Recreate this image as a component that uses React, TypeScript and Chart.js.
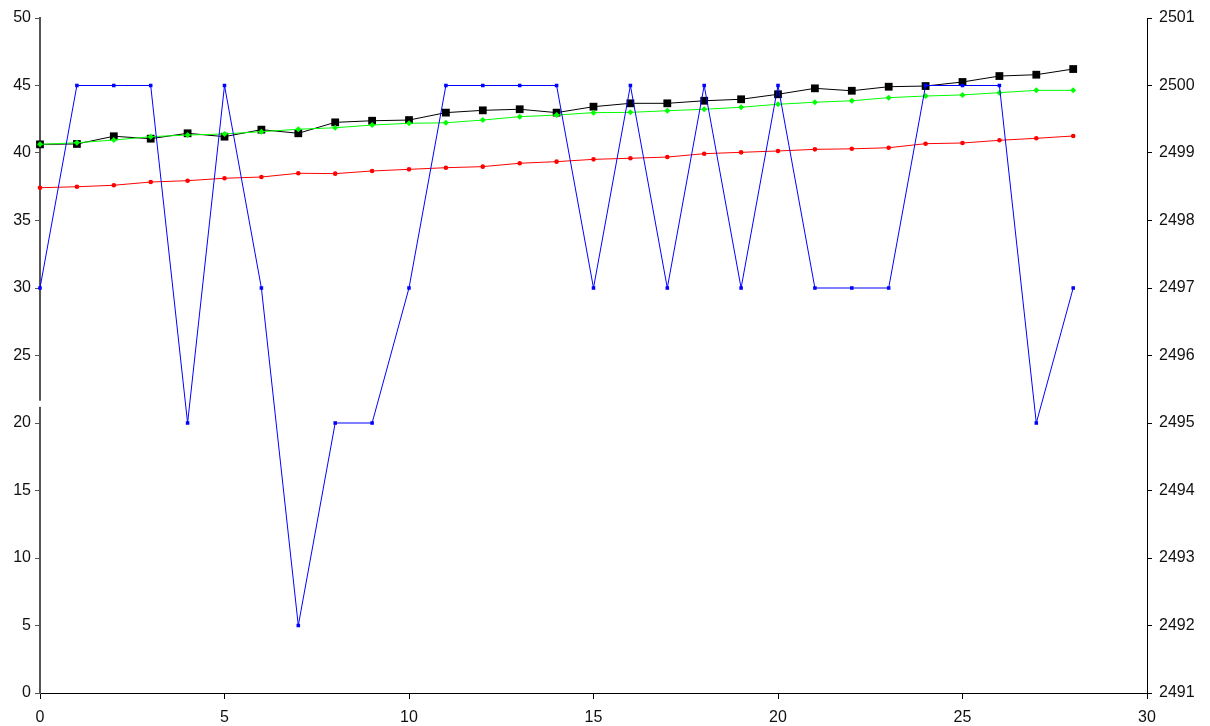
import React, { useEffect, useRef } from "react";
import { Chart, registerables } from "chart.js";

Chart.register(...registerables);

const xValues = [0, 1, 2, 3, 4, 5, 6, 7, 8, 9, 10, 11, 12, 13, 14, 15, 16, 17, 18, 19, 20, 21, 22, 23, 24, 25, 26, 27, 28];
const blueValues = [30, 45, 45, 45, 20, 45, 30, 5, 20, 20, 30, 45, 45, 45, 45, 30, 45, 30, 45, 30, 45, 30, 30, 30, 45, 45, 45, 20, 30];
const blackValues = [40.64, 40.67, 41.24, 41.06, 41.46, 41.21, 41.73, 41.46, 42.27, 42.39, 42.44, 42.99, 43.16, 43.24, 42.99, 43.43, 43.68, 43.68, 43.87, 43.98, 44.35, 44.79, 44.61, 44.91, 44.96, 45.26, 45.7, 45.8, 46.22];
const greenValues = [40.64, 40.76, 40.96, 41.21, 41.33, 41.41, 41.58, 41.76, 41.87, 42.07, 42.2, 42.24, 42.44, 42.69, 42.81, 42.99, 43.01, 43.13, 43.24, 43.39, 43.61, 43.76, 43.87, 44.1, 44.22, 44.3, 44.47, 44.64, 44.64];
const redValues = [37.43, 37.5, 37.61, 37.85, 37.95, 38.13, 38.22, 38.5, 38.47, 38.67, 38.79, 38.91, 38.99, 39.24, 39.36, 39.53, 39.61, 39.7, 39.95, 40.05, 40.15, 40.27, 40.31, 40.39, 40.69, 40.74, 40.94, 41.09, 41.26];

const xTickStep = 5;
const leftTickStep = 5;
const rightMin = 2491;
const rightMax = 2501;

const toPoints = (ys: number[]) => ys.map((y, i) => ({ x: xValues[i], y }));

const axisGapPlugin = {
  id: "axisGap",
  afterDraw(chart: any) {
    const y = chart.scales.y;
    if (!y) return;
    const ctx = chart.ctx;
    const top = y.getPixelForValue(21.65);
    const bottom = y.getPixelForValue(21.2);
    ctx.save();
    ctx.fillStyle = "#ffffff";
    ctx.fillRect(y.right - 2, top, 4, bottom - top);
    ctx.restore();
  },
};

export default function App() {
  const ref = useRef<HTMLCanvasElement | null>(null);

  useEffect(() => {
    if (!ref.current) return;
    const font = { family: "'Liberation Sans', Arial, sans-serif", size: 16 };
    const chart = new Chart(ref.current, {
      type: "line",
      data: {
        datasets: [
          {
            label: "Blue",
            data: toPoints(blueValues),
            borderColor: "#0000ff",
            backgroundColor: "#0000ff",
            borderWidth: 1,
            pointStyle: "rect",
            pointRadius: 2.5,
            pointBorderWidth: 0,
            clip: false,
            yAxisID: "y",
          },
          {
            label: "Red",
            data: toPoints(redValues),
            borderColor: "#ff0000",
            backgroundColor: "#ff0000",
            borderWidth: 1,
            pointStyle: "circle",
            pointRadius: 2.3,
            pointBorderWidth: 0,
            clip: false,
            yAxisID: "y",
          },
          {
            label: "Green",
            data: toPoints(greenValues),
            borderColor: "#00ff00",
            backgroundColor: "#00ff00",
            borderWidth: 1,
            pointStyle: "rectRot",
            pointRadius: 3,
            pointBorderWidth: 0,
            clip: false,
            yAxisID: "y",
          },
          {
            label: "Black",
            data: toPoints(blackValues),
            borderColor: "#000000",
            backgroundColor: "#000000",
            borderWidth: 1,
            pointStyle: "rect",
            pointRadius: 5.5,
            pointBorderWidth: 0,
            clip: false,
            yAxisID: "y",
          },
        ],
      },
      options: {
        animation: false,
        responsive: true,
        maintainAspectRatio: false,
        layout: { padding: { top: 18, left: 0, right: 0, bottom: 0 } },
        plugins: {
          legend: { display: false },
          tooltip: { enabled: false },
        },
        elements: { line: { tension: 0 } },
        scales: {
          x: {
            type: "linear",
            min: 0,
            max: 30,
            ticks: { stepSize: xTickStep, color: "#111", font, padding: 9 },
            grid: { drawOnChartArea: false, drawTicks: true, tickLength: 6, color: "#000" },
            border: { color: "#000", width: 1 },
            afterFit: (s: any) => {
              s.height = 33;
            },
          },
          y: {
            type: "linear",
            position: "left",
            min: 0,
            max: 50,
            ticks: { stepSize: leftTickStep, color: "#111", font, padding: 4 },
            grid: { drawOnChartArea: false, drawTicks: true, tickLength: 5, color: "#555" },
            border: { color: "#555", width: 2 },
            afterFit: (s: any) => {
              s.width = 40;
            },
          },
          y2: {
            type: "linear",
            position: "right",
            display: true,
            min: rightMin,
            max: rightMax,
            ticks: {
              stepSize: 1,
              color: "#111",
              font,
              padding: 7,
              callback: (v: any) => String(v),
            },
            grid: { drawOnChartArea: false, drawTicks: true, tickLength: 5, color: "#000" },
            border: { color: "#000", width: 1 },
            afterFit: (s: any) => {
              s.width = 63;
            },
          },
        },
      },
      plugins: [axisGapPlugin],
    });
    return () => chart.destroy();
  }, []);

  return (
    <div style={{ position: "fixed", left: 0, top: 0, width: 1210, height: 726, background: "#fff" }}>
      <canvas ref={ref} />
    </div>
  );
}
